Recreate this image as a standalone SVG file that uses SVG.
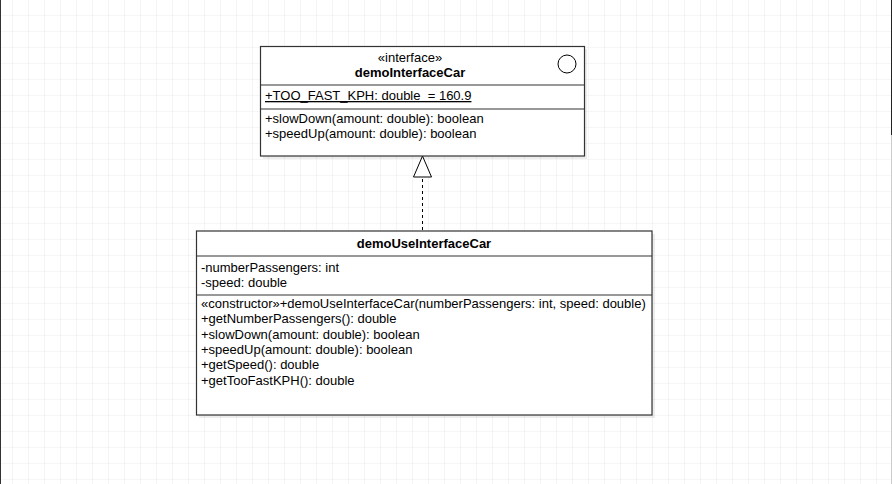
<svg xmlns="http://www.w3.org/2000/svg" width="892" height="484" viewBox="0 0 892 484">
<defs>
<pattern id="grid" x="12" y="15" width="16" height="16" patternUnits="userSpaceOnUse">
<path d="M0 0H16M0 0V16" fill="none" stroke="#ededed" stroke-width="1.2"/>
</pattern>
<style>
.box{fill:#fff;stroke:#333;stroke-width:1.2}
.shadow{fill:#000;opacity:0.07}
.div{stroke:#333;stroke-width:1.2}
text{font-family:"Liberation Sans",Arial,sans-serif;font-size:13px;fill:#000}
.b{font-weight:bold}
.c{text-anchor:middle}
</style>
</defs>
<rect width="892" height="484" fill="#fff"/>
<rect width="892" height="484" fill="url(#grid)"/>
<line x1="0.5" y1="0" x2="0.5" y2="484" stroke="#333" stroke-width="1"/>
<line x1="891.5" y1="0" x2="891.5" y2="135" stroke="#222" stroke-width="1"/>
<line x1="891.5" y1="135" x2="891.5" y2="484" stroke="#ccc" stroke-width="1"/>

<g id="connectors">
<line x1="422.5" y1="230" x2="422.5" y2="177" stroke="#000" stroke-width="1" stroke-dasharray="3 3"/>
<path d="M422.5 156 L413.5 177 L431.5 177 Z" fill="#fff" stroke="#000" stroke-width="1"/>
</g>

<g id="demoInterfaceCar">
<rect class="shadow" x="263" y="49" width="324" height="110"/>
<rect class="box" x="260.5" y="46.5" width="324" height="109.5"/>
<line class="div" x1="260.5" y1="85" x2="584.5" y2="85"/>
<line class="div" x1="260.5" y1="109" x2="584.5" y2="109"/>
<circle cx="567" cy="64" r="9" fill="#fff" stroke="#000" stroke-width="1"/>
<text class="c" x="410" y="62">«interface»</text>
<text class="c b" x="410" y="77">demoInterfaceCar</text>
<text x="265" y="100" text-decoration="underline">+TOO_FAST_KPH: double&#160; = 160.9</text>
<text x="265" y="123">+slowDown(amount: double): boolean</text>
<text x="265" y="138">+speedUp(amount: double): boolean</text>
</g>

<g id="demoUseInterfaceCar">
<rect class="shadow" x="199" y="234" width="456" height="184"/>
<rect class="box" x="196.5" y="231" width="455.5" height="184"/>
<line class="div" x1="196.5" y1="256" x2="652" y2="256"/>
<line class="div" x1="196.5" y1="295" x2="652" y2="295"/>
<text class="c b" x="424" y="248">demoUseInterfaceCar</text>
<text x="201" y="272">-numberPassengers: int</text>
<text x="201" y="287">-speed: double</text>
<text x="201" y="308">«constructor»+demoUseInterfaceCar(numberPassengers: int, speed: double)</text>
<text x="201" y="323">+getNumberPassengers(): double</text>
<text x="201" y="339">+slowDown(amount: double): boolean</text>
<text x="201" y="354">+speedUp(amount: double): boolean</text>
<text x="201" y="369">+getSpeed(): double</text>
<text x="201" y="385">+getTooFastKPH(): double</text>
</g>
</svg>
